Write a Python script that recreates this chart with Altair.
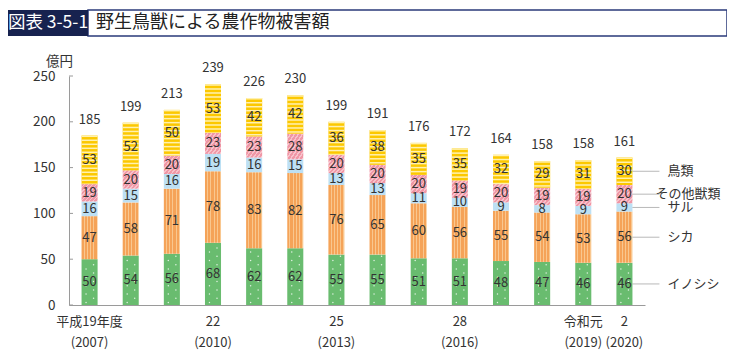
import altair as alt
import pandas as pd

# ---------------- data ----------------
years = ["2007", "2008", "2009", "2010", "2011", "2012", "2013",
         "2014", "2015", "2016", "2017", "2018", "2019", "2020"]
era_labels = ["平成19年度", "", "", "22", "", "", "25", "", "", "28", "", "", "令和元", "2"]
ad_labels = ["(2007)", "", "", "(2010)", "", "", "(2013)", "", "", "(2016)", "", "", "(2019)", "(2020)"]

species = ["イノシシ", "シカ", "サル", "その他獣類", "鳥類"]
inoshishi = [50, 54, 56, 68, 62, 62, 55, 55, 51, 51, 48, 47, 46, 46]
shika = [47, 58, 71, 78, 83, 82, 76, 65, 60, 56, 55, 54, 53, 56]
saru = [16, 15, 16, 19, 16, 15, 13, 13, 11, 10, 9, 8, 9, 9]
other = [19, 20, 20, 23, 23, 28, 20, 20, 20, 19, 20, 19, 19, 20]
birds = [53, 52, 50, 53, 42, 42, 36, 38, 35, 35, 32, 29, 31, 30]
totals = [185, 199, 213, 239, 226, 230, 199, 191, 176, 172, 164, 158, 158, 161]
y_ticks = [0, 50, 100, 150, 200, 250]

series = [inoshishi, shika, saru, other, birds]

# ---------------- tables ----------------
rows = []
for i, yr in enumerate(years):
    base = 0
    for sp, vals in zip(species, series):
        v = vals[i]
        rows.append(dict(year=yr, species=sp, value=v, start=base, end=base + v, mid=base + v / 2))
        base += v
seg = pd.DataFrame(rows)

tot = pd.DataFrame(dict(year=years, total=totals,
                        top=seg.groupby("year", sort=False)["end"].max().values))

# texture helpers (decoration derived from the segments)
PX = 250 / 229.0  # data units per pixel
stripe_rows = []
for _, r in seg[seg.species == "鳥類"].iterrows():
    y2 = r.end
    while y2 > r.start:
        stripe_rows.append(dict(year=r.year, s=max(r.start, y2 - 1.5 * PX), e=y2))
        y2 -= 4 * PX
stripes = pd.DataFrame(stripe_rows)

dot_rows = []
for _, r in seg[seg.species == "イノシシ"].iterrows():
    k = 0
    y = r.start + 2.5 * PX
    while y < r.end - 1.5 * PX:
        dot_rows.append(dict(year=r.year, y=y, col=k % 2))
        k += 1
        y += 4.2 * PX
dots = pd.DataFrame(dot_rows)

last = seg[seg.year == years[-1]]
ticks_df = pd.DataFrame(dict(t=y_ticks))

# ---------------- encodings ----------------
FONT = "Noto Sans CJK JP"
label_expr = ("[" + ",".join(f"['{a}','{b}']" for a, b in zip(era_labels, ad_labels)) + "]"
              + "[indexof([" + ",".join(f"'{y}'" for y in years) + "], datum.value)]")

x_scale = alt.Scale(domain=years, paddingInner=0.61, paddingOuter=0.305)
x_axis = alt.Axis(title=None, ticks=False, domainColor="#9a9a9a", labelAngle=0,
                  labelExpr=label_expr, labelFontSize=13, labelColor="#333333",
                  labelFont=FONT, labelPadding=10, labelLineHeight=21, labelBaseline="top")
y_scale = alt.Scale(domain=[0, 250], nice=False)
y_axis = alt.Axis(title="億円", values=y_ticks, ticks=False, grid=False, domainColor="#9a9a9a",
                  labelFontSize=13.5, labelColor="#333333", labelFont=FONT, labelPadding=14,
                  titleAngle=0, titleX=-10, titleY=-15, titleAlign="center",
                  titleBaseline="middle", titleFontWeight="normal", titleFontSize=13.5,
                  titleColor="#333333", titleFont=FONT)


def X(**kw):
    return alt.X("year:N", scale=x_scale, axis=x_axis, **kw)


def Y(field):
    return alt.Y(field, scale=y_scale, axis=y_axis)


def hard_stops(c1, c2, n, frac):
    stops = []
    for k in range(n):
        a = k / n
        b = (k + frac) / n
        c = (k + 1) / n
        stops += [dict(offset=a, color=c1), dict(offset=b, color=c1),
                  dict(offset=b, color=c2), dict(offset=c, color=c2)]
    return stops


orange_fill = {"gradient": "linear", "x1": 0, "y1": 0, "x2": 1, "y2": 0,
               "stops": hard_stops("#f5a358", "#f9c78f", 5, 0.68)}
pink_fill = {"gradient": "linear", "x1": 0, "y1": 0, "x2": 1, "y2": 1,
             "stops": hard_stops("#f097a6", "#f7c2cb", 8, 0.6)}

base = alt.Chart(seg)


def seg_bar(sp, **mark):
    return base.transform_filter(alt.datum.species == sp).mark_bar(**mark).encode(
        x=X(), y=Y("start:Q"), y2="end:Q")


green = seg_bar("イノシシ", color="#69bc6f")
orange = seg_bar("シカ", fill=orange_fill)
blue = seg_bar("サル", color="#bde0f4")
pink = seg_bar("その他獣類", fill=pink_fill)
yellow = seg_bar("鳥類", color="#fcc800")

stripe_layer = alt.Chart(stripes).mark_bar(color="#fff1b0").encode(
    x=X(), y=Y("s:Q"), y2="e:Q")

dots0 = alt.Chart(dots).transform_filter(alt.datum.col == 0).mark_circle(
    color="white", size=2.2, opacity=0.8).encode(x=X(bandPosition=0.28), y=Y("y:Q"))
dots1 = alt.Chart(dots).transform_filter(alt.datum.col == 1).mark_circle(
    color="white", size=2.2, opacity=0.8).encode(x=X(bandPosition=0.75), y=Y("y:Q"))

seg_text = base.mark_text(font=FONT, fontSize=13, color="#333333", baseline="middle").encode(
    x=X(), y=Y("mid:Q"), text="value:Q")

tot_text = alt.Chart(tot).mark_text(font=FONT, fontSize=13, color="#333333",
                                    baseline="middle", dy=-16).encode(
    x=X(), y=Y("top:Q"), text="total:Q")

y_tick_rules = alt.Chart(ticks_df).mark_rule(color="#9a9a9a").encode(
    y=Y("t:Q"), x=alt.value(0), x2=alt.value(4))

leaders = alt.Chart(last).mark_tick(color="#9a9a9a", size=27, thickness=1, xOffset=21.5).encode(
    x=X(), y=Y("mid:Q"))
legend_main = alt.Chart(last).transform_filter(alt.datum.species != "その他獣類").mark_text(
    font=FONT, fontSize=13, color="#333333", align="left", baseline="middle", dx=43).encode(
    x=X(), y=Y("mid:Q"), text="species:N")
legend_other = alt.Chart(last).transform_filter(alt.datum.species == "その他獣類").mark_text(
    font=FONT, fontSize=13, color="#333333", align="left", baseline="middle", dx=31).encode(
    x=X(), y=Y("mid:Q"), text="species:N")

# ---------------- title banner ----------------
banner_df = pd.DataFrame(dict(a=[0]))
banner_dark = alt.Chart(banner_df).mark_rect(color="#17224f").encode(
    x=alt.value(-61), x2=alt.value(19), y=alt.value(-66), y2=alt.value(-40))
banner_box = alt.Chart(banner_df).mark_rect(fill="white", stroke="#2a3a7a", strokeWidth=1.5).encode(
    x=alt.value(19), x2=alt.value(658), y=alt.value(-66), y2=alt.value(-40))
banner_id = alt.Chart(banner_df).mark_text(font=FONT, fontSize=17.5, color="white",
                                           align="center", baseline="middle").encode(
    x=alt.value(-21), y=alt.value(-53), text=alt.value("図表 3-5-1"))
banner_title = alt.Chart(banner_df).mark_text(font=FONT, fontSize=18, color="#222222",
                                              align="left", baseline="middle").encode(
    x=alt.value(27), y=alt.value(-53), text=alt.value("野生鳥獣による農作物被害額"))

chart = alt.layer(
    green, orange, blue, pink, yellow, stripe_layer, dots0, dots1,
    seg_text, tot_text, y_tick_rules, leaders, legend_main, legend_other,
    banner_box, banner_dark, banner_id, banner_title,
).properties(
    width=576, height=229,
    autosize=alt.AutoSizeParams(type="none"),
    padding={"left": 61, "top": 68, "right": 82, "bottom": 45},
).configure_view(stroke=None)

chart.save("out.html", embed_options={"renderer": "svg", "actions": False})
